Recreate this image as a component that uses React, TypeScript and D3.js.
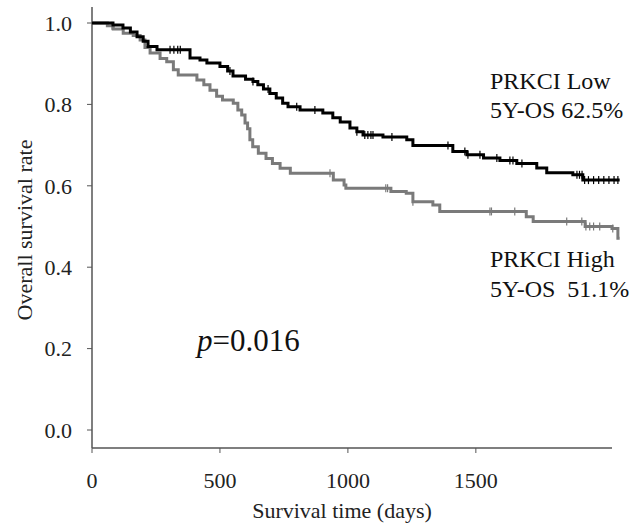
import React from "react";
import * as d3 from "d3";

const lowTimes = [0, 82, 121, 150, 176, 200, 219, 254, 383, 422, 449, 500, 530, 551, 600, 629, 648, 670, 695, 720, 745, 766, 813, 902, 941, 970, 1008, 1035, 1059, 1137, 1230, 1254, 1410, 1465, 1530, 1594, 1660, 1738, 1777, 1879, 1918, 2062];
const lowSurv = [1.0, 0.995, 0.988, 0.978, 0.966, 0.955, 0.942, 0.934, 0.914, 0.909, 0.902, 0.893, 0.882, 0.870, 0.862, 0.856, 0.848, 0.838, 0.827, 0.816, 0.803, 0.794, 0.786, 0.779, 0.767, 0.757, 0.742, 0.733, 0.725, 0.720, 0.713, 0.699, 0.684, 0.676, 0.668, 0.662, 0.655, 0.644, 0.632, 0.627, 0.614, 0.614];
const lowCensor = [305, 320, 335, 345, 539, 629, 688, 800, 871, 1035, 1066, 1078, 1090, 1098, 1172, 1391, 1457, 1469, 1516, 1582, 1633, 1645, 1680, 1895, 1905, 1915, 1925, 1940, 1960, 1980, 2000, 2020, 2040, 2055];

const highTimes = [0, 60, 83, 122, 161, 188, 207, 227, 266, 292, 318, 337, 410, 437, 461, 487, 510, 552, 570, 585, 598, 608, 617, 628, 650, 680, 705, 735, 775, 943, 985, 992, 1168, 1228, 1254, 1332, 1359, 1697, 1724, 1927, 2032, 2055, 2062];
const highSurv = [1.0, 0.993, 0.985, 0.975, 0.969, 0.958, 0.940, 0.926, 0.913, 0.905, 0.885, 0.872, 0.860, 0.848, 0.835, 0.820, 0.811, 0.803, 0.786, 0.774, 0.754, 0.740, 0.713, 0.696, 0.680, 0.667, 0.655, 0.643, 0.631, 0.614, 0.602, 0.594, 0.586, 0.582, 0.561, 0.553, 0.537, 0.524, 0.512, 0.500, 0.495, 0.471, 0.471];
const highCensor = [78, 930, 1148, 1155, 1254, 1555, 1561, 1652, 1855, 1914, 1930, 1945, 1960, 1984, 2035];

const xTicks = [0, 500, 1000, 1500];
const yTicks = [0, 0.2, 0.4, 0.6, 0.8, 1.0];

const FONT = "'Liberation Serif', 'Times New Roman', serif";

function survAt(times: number[], surv: number[], t: number) {
  let s = surv[0];
  for (let i = 0; i < times.length; i++) {
    if (times[i] <= t) s = surv[i];
  }
  return s;
}

export default function App() {
  const W = 643, H = 527;
  const x = d3.scaleLinear().domain([0, 2032]).range([92, 612]);
  const y = d3.scaleLinear().domain([0, 1]).range([430, 23]);
  const axisTop = 7, axisBottom = 448;

  const line = d3
    .line<[number, number]>()
    .x((d) => x(d[0]))
    .y((d) => y(d[1]))
    .curve(d3.curveStepAfter);

  const lowData: [number, number][] = lowTimes.map((t, i) => [t, lowSurv[i]]);
  const highData: [number, number][] = highTimes.map((t, i) => [t, highSurv[i]]);

  const axisColor = "#555";
  const grayColor = "#7a7a7a";

  return (
    <svg width={W} height={H} style={{ position: "absolute", left: 0, top: 0, background: "#fff" }}>
      <rect width={W} height={H} fill="#fff" />
      <line x1={x(0)} x2={x(0)} y1={axisTop} y2={axisBottom} stroke={axisColor} strokeWidth={1.5} />
      <line x1={x(0)} x2={612} y1={axisBottom} y2={axisBottom} stroke={axisColor} strokeWidth={1.5} />
      {yTicks.map((t) => (
        <g key={"y" + t}>
          <line x1={x(0) - 5} x2={x(0)} y1={y(t)} y2={y(t)} stroke={axisColor} strokeWidth={1} />
          <text x={72} y={y(t)} dy="0.35em" textAnchor="end" fontFamily={FONT} fontSize={22} fill="#222">
            {d3.format(".1f")(t)}
          </text>
        </g>
      ))}
      {xTicks.map((t) => (
        <g key={"x" + t}>
          <line x1={x(t)} x2={x(t)} y1={axisBottom} y2={axisBottom + 5} stroke={axisColor} strokeWidth={1} />
          <text x={x(t)} y={488} textAnchor="middle" fontFamily={FONT} fontSize={22} fill="#222">
            {t}
          </text>
        </g>
      ))}
      <text x={342} y={518} textAnchor="middle" fontFamily={FONT} fontSize={22} fill="#222">
        Survival time (days)
      </text>
      <text
        transform={`translate(32, 230) rotate(-90)`}
        textAnchor="middle"
        fontFamily={FONT}
        fontSize={22}
        fill="#222"
      >
        Overall survival rate
      </text>

      <path d={line(highData) || ""} fill="none" stroke={grayColor} strokeWidth={3} />
      {highCensor.map((t, i) => {
        const s = survAt(highTimes, highSurv, t);
        return <line key={"hc" + i} x1={x(t)} x2={x(t)} y1={y(s) - 4} y2={y(s) + 4} stroke={grayColor} strokeWidth={1.2} />;
      })}
      <path d={line(lowData) || ""} fill="none" stroke="#000" strokeWidth={3} />
      {lowCensor.map((t, i) => {
        const s = survAt(lowTimes, lowSurv, t);
        return <line key={"lc" + i} x1={x(t)} x2={x(t)} y1={y(s) - 4} y2={y(s) + 4} stroke="#000" strokeWidth={1.2} />;
      })}

      <text x={490} y={89} fontFamily={FONT} fontSize={24} fill="#111">PRKCI Low</text>
      <text x={490} y={118} fontFamily={FONT} fontSize={24} fill="#111">5Y-OS 62.5%</text>
      <text x={490} y={267} fontFamily={FONT} fontSize={24} fill="#111">PRKCI High</text>
      <text x={490} y={297} fontFamily={FONT} fontSize={24} fill="#111" xmlSpace="preserve">5Y-OS  51.1%</text>
      <text x={197} y={351} fontFamily={FONT} fontSize={31} fill="#111">
        <tspan fontStyle="italic">p</tspan>=0.016
      </text>
    </svg>
  );
}
